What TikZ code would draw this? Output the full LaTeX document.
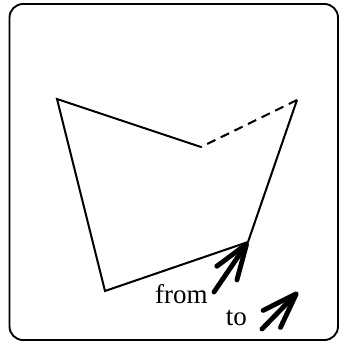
\documentclass[tikz,border=0pt]{standalone}
\usepackage{fontspec}
\setmainfont{Liberation Serif}
\usepackage{tikz}
\usetikzlibrary{arrows.meta,positioning}

\begin{document}
\begin{tikzpicture}[x=0.37pt,y=-0.37pt,
    edge/.style={line width=0.75pt,line join=miter},
    fat/.style={line width=1.8pt,line cap=round,
      -{Straight Barb[length=13pt,width=9pt,round]}},
    lbl/.style={inner sep=0pt,anchor=base,font=\fontsize{10}{12}\selectfont}]
  \useasboundingbox (0,0) rectangle (340,341);
  \draw[line width=0.7pt,rounded corners=5pt] (9.5,4) rectangle (338,340);
  % the polygon
  \coordinate (a) at (57,99);
  \coordinate (b) at (201,147);
  \coordinate (c) at (297,100);
  \coordinate (d) at (248,242);
  \coordinate (e) at (105,291);
  \draw[edge] (b) -- (a) -- (e) -- (d) -- (c);
  \draw[edge,dash pattern=on 3.4pt off 2.2pt] (c) -- (b);
  % arrow labels
  \node[lbl] (from) at (181.5,303) {from};
  \node[lbl] (to) at (236.5,325) {to};
  \coordinate (fromtail) at (214,292);
  \coordinate (totail) at (262,329);
  \coordinate (totip) at (298,292);
  \draw[fat] (fromtail) -- (d);
  \draw[fat] (totail) -- (totip);
\end{tikzpicture}
\end{document}
